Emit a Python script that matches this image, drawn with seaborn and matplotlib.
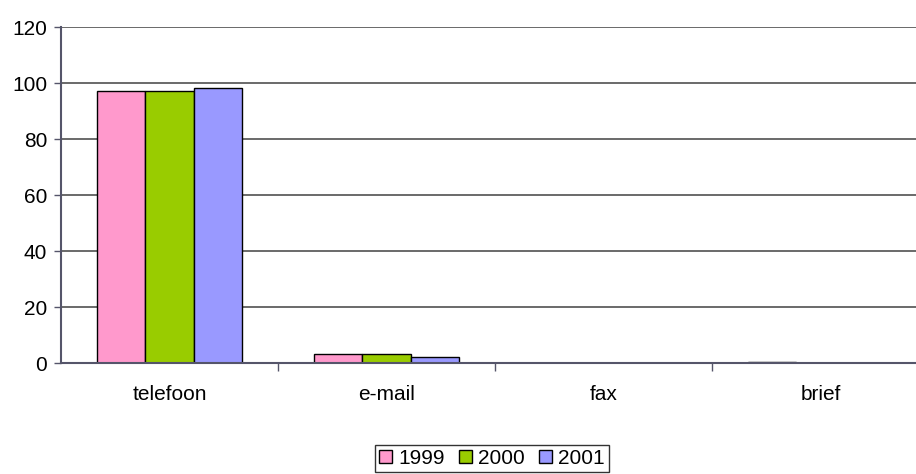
import matplotlib.pyplot as plt
import numpy as np
import pandas as pd
import seaborn as sns

categories = ["telefoon", "e-mail", "fax", "brief"]
years = ["1999", "2000", "2001"]
values_1999 = [97.1, 3.2, 0.0, 0.3]
values_2000 = [97.1, 3.2, 0.0, 0.0]
values_2001 = [98.2, 2.1, 0.0, 0.0]
y_ticks = [0, 20, 40, 60, 80, 100, 120]

palette = ["#FF99CC", "#99CC00", "#9999FF"]

rows = []
for year, vals in zip(years, [values_1999, values_2000, values_2001]):
    for cat, v in zip(categories, vals):
        rows.append({"kanaal": cat, "jaar": year, "waarde": v})
df = pd.DataFrame(rows)

sns.set_theme(style="white")
plt.rcParams["font.family"] = ["Liberation Sans", "DejaVu Sans"]

fig = plt.figure(figsize=(9.16, 4.74), dpi=100)
# plot area runs a bit past the right edge of the picture, as in the original
ax = fig.add_axes([0.0666, 0.234, 0.9476, 0.709])

sns.barplot(
    data=df, x="kanaal", y="waarde", hue="jaar", order=categories,
    hue_order=years, palette=palette, width=0.668, edgecolor="black",
    linewidth=1.0, saturation=1, ax=ax,
)

ax.set_ylim(0, 120)
ax.set_xlim(-0.5, 3.5)
ax.set_yticks(y_ticks)
ax.yaxis.grid(True, color="#505050", linewidth=1.2)
ax.set_axisbelow(True)
ax.set_xlabel("")
ax.set_ylabel("")

for side in ["top", "right"]:
    ax.spines[side].set_visible(False)
ax.spines["left"].set_color("#55556a")
ax.spines["left"].set_linewidth(1.5)
ax.spines["bottom"].set_color("#55556a")
ax.spines["bottom"].set_linewidth(1.5)

ax.tick_params(axis="y", left=True, length=5, width=1, color="#55556a",
               labelsize=15, labelcolor="black", pad=5)
ax.tick_params(axis="x", which="major", bottom=False, labelsize=15,
               labelcolor="black", pad=10)
ax.set_xticks(np.arange(0.5, 3.5, 1.0), minor=True)
ax.tick_params(axis="x", which="minor", bottom=True, length=6, width=1,
               color="#55556a")

ax.legend_.remove()
leg = fig.legend(
    *ax.get_legend_handles_labels(), loc="lower center", ncol=3,
    bbox_to_anchor=(0.537, 0.0), frameon=True, fancybox=False,
    fontsize=15, handlelength=0.6, handleheight=0.6, handletextpad=0.3,
    columnspacing=0.7, borderpad=0.2, borderaxespad=0.1,
)
leg.get_frame().set_edgecolor("black")
leg.get_frame().set_linewidth(1.0)
for t in leg.get_texts():
    t.set_color("black")

fig.savefig("out.png", dpi=100)
